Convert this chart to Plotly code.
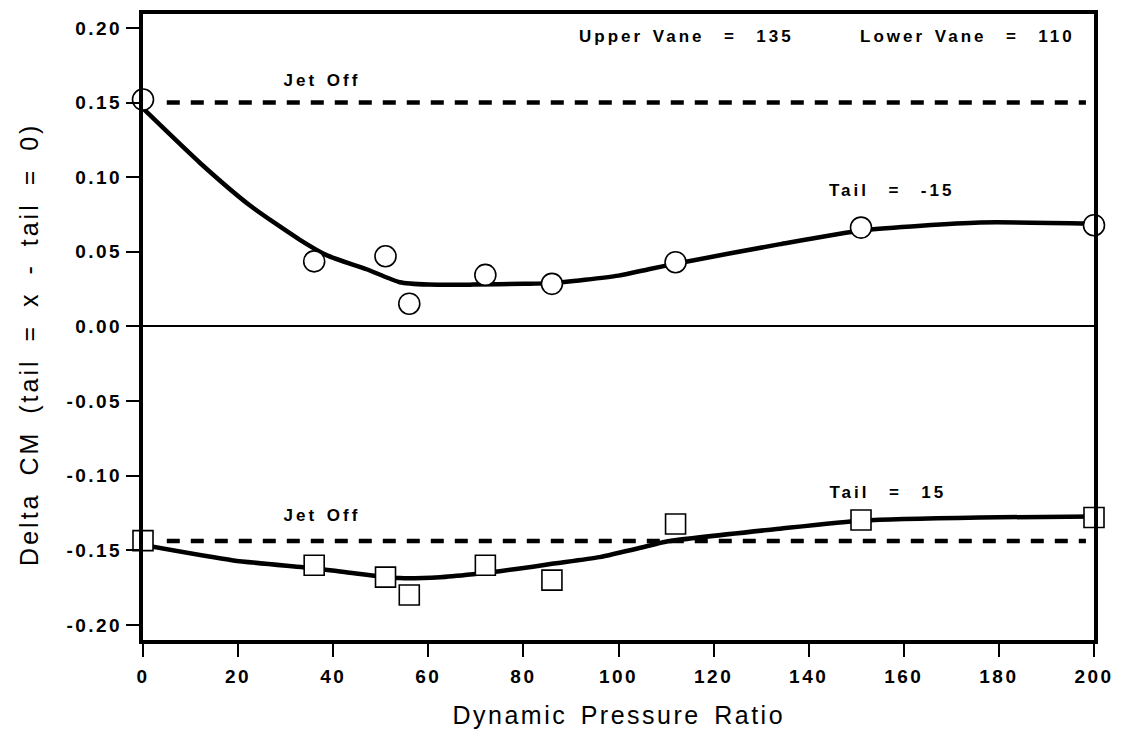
import plotly.graph_objects as go

# ---- data ----
dpr = [0, 36, 51, 56, 72, 86, 112, 151, 200]
cm_tail_m15 = [0.152, 0.0436, 0.047, 0.0152, 0.0345, 0.0285, 0.043, 0.0662, 0.0678]
cm_tail_p15 = [-0.1435, -0.160, -0.168, -0.180, -0.160, -0.170, -0.1324, -0.1297, -0.128]

fit_x_m15 = [0, 12, 22.5, 33, 38.7, 47, 54, 60, 69.4, 80, 86, 100, 106.6, 112, 134, 151.6, 176, 200]
fit_y_m15 = [0.146, 0.1095, 0.081, 0.058, 0.0476, 0.0383, 0.0296, 0.0280, 0.0280, 0.0285, 0.029,
             0.034, 0.0385, 0.042, 0.0551, 0.0644, 0.0696, 0.0688]

fit_x_p15 = [0, 19, 36, 43.5, 54, 62.5, 69.4, 75, 82, 86, 96, 106.6, 110.4, 134, 151.6, 176, 200]
fit_y_p15 = [-0.1465, -0.1568, -0.162, -0.165, -0.1686, -0.168, -0.166, -0.164, -0.161, -0.159,
             -0.1546, -0.1468, -0.144, -0.1355, -0.130, -0.128, -0.1273]

jet_x = [5, 198.3]
jet_off_m15 = 0.150
jet_off_p15 = -0.1437

x_ticks = [0, 20, 40, 60, 80, 100, 120, 140, 160, 180, 200]
y_ticks = [0.20, 0.15, 0.10, 0.05, 0.00, -0.05, -0.10, -0.15, -0.20]
y_ticktext = ["0.20", "0.15", "0.10", "0.05", "0.00", "-0.05", "-0.10", "-0.15", "-0.20"]

FONT = "Liberation Sans, Arial, sans-serif"

fig = go.Figure()

# fitted curves
fig.add_trace(go.Scatter(x=fit_x_m15, y=fit_y_m15, mode="lines",
                         line=dict(color="black", width=4.5, shape="spline", smoothing=0.6),
                         hoverinfo="skip"))
fig.add_trace(go.Scatter(x=fit_x_p15, y=fit_y_p15, mode="lines",
                         line=dict(color="black", width=4.5, shape="spline", smoothing=0.6),
                         hoverinfo="skip"))
# jet off lines
fig.add_trace(go.Scatter(x=jet_x, y=[jet_off_m15] * len(jet_x), mode="lines",
                         line=dict(color="black", width=4.5, dash="13px,11px")))
fig.add_trace(go.Scatter(x=jet_x, y=[jet_off_p15] * len(jet_x), mode="lines",
                         line=dict(color="black", width=4.5, dash="13px,11px")))
# markers
fig.add_trace(go.Scatter(x=dpr, y=cm_tail_m15, mode="markers", cliponaxis=False,
                         marker=dict(symbol="circle", size=21, color="white",
                                     line=dict(color="black", width=1.6))))
fig.add_trace(go.Scatter(x=dpr, y=cm_tail_p15, mode="markers", cliponaxis=False,
                         marker=dict(symbol="square", size=20, color="white",
                                     line=dict(color="black", width=1.6))))

ann_font = dict(family=FONT, size=17, color="black", weight="bold")
title_font = dict(family=FONT, size=25, color="black")
annotations = [
    dict(text="Dynamic Pressure Ratio", xref="paper", yref="paper", x=0.5, y=-0.1206,
         xanchor="center", yanchor="middle", showarrow=False, font=title_font),
    dict(text="Delta CM (tail = x - tail = 0)", xref="paper", yref="paper", x=-0.1199, y=0.473,
         xanchor="center", yanchor="middle", textangle=-90, showarrow=False, font=title_font),
    dict(text="Jet Off", x=37.6, y=0.165, showarrow=False, font=ann_font),
    dict(text="Jet Off", x=37.6, y=-0.127, showarrow=False, font=ann_font),
    dict(text="Tail  =  -15", x=157.5, y=0.091, showarrow=False, font=ann_font),
    dict(text="Tail  =  15", x=156.7, y=-0.1113, showarrow=False, font=ann_font),
    dict(text="Upper Vane  =  135", x=114.2, y=0.1943, showarrow=False, font=ann_font),
    dict(text="Lower Vane  =  110", x=173.3, y=0.1943, showarrow=False, font=ann_font),
]

fig.update_layout(
    width=1121, height=732,
    margin=dict(l=143, r=27, t=10, b=92),
    paper_bgcolor="white", plot_bgcolor="white",
    showlegend=False,
    annotations=annotations,
)
fig.update_xaxes(range=[0, 200], tickvals=x_ticks, ticks="outside", ticklen=13, tickwidth=2,
                 tickcolor="black", showline=True, linewidth=4, linecolor="black", mirror=True,
                 showgrid=False, zeroline=False, ticklabelstandoff=3,
                 tickfont=dict(family=FONT, size=19, color="black", weight="bold"))
fig.update_yaxes(range=[-0.2101, 0.2093], tickvals=y_ticks, ticktext=y_ticktext,
                 ticks="outside", ticklen=13, tickwidth=2, tickcolor="black",
                 showline=True, linewidth=4, linecolor="black", mirror=True,
                 showgrid=False, zeroline=True, zerolinecolor="black", zerolinewidth=2,
                 tickfont=dict(family=FONT, size=19, color="black", weight="bold"))

css = (".xtick text, .ytick text {letter-spacing: 2.5px;} "
       ".annotation text {letter-spacing: 3px; word-spacing: 2px;} "
       ".annotation[data-index='0'] text {letter-spacing: 2.5px; word-spacing: 4px;} "
       ".annotation[data-index='1'] text {letter-spacing: 3px; word-spacing: 7px;}")
post = ("var s=document.createElement('style');s.textContent=\"%s\";"
        "document.head.appendChild(s);" % css)

fig.write_html("out.html", post_script=post)
